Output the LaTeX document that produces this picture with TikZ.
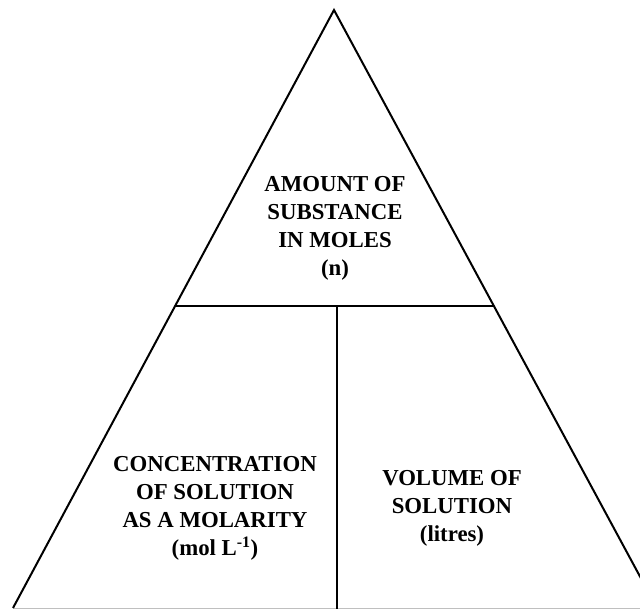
\documentclass[tikz,border=0pt]{standalone}
\usepackage{fontspec}
\setmainfont{Liberation Serif}
\begin{document}
\begin{tikzpicture}[x=1pt,y=-1pt,
  edge/.style={line width=2pt,black},
  lbl/.style={align=center,inner sep=0pt,font=\bfseries\fontsize{22.8}{28}\selectfont}]
\useasboundingbox (0,0) rectangle (640,609);
\clip (0,0) rectangle (640,609);
\coordinate (apex) at (334,10);
\coordinate (bl) at (13,608);
\coordinate (br) at (657,608);
\coordinate (hl) at (175.5,306);
\coordinate (hr) at (494,306);
\coordinate (vt) at (336.5,306);
\coordinate (vb) at (336.5,609);
\draw[line width=1pt,black!25] (bl) -- (br);
\draw[edge,line join=miter] (bl) -- (apex) -- (br);
\draw[edge] (hl) -- (hr);
\draw[edge] (vt) -- (vb);
\node[lbl] (top) at (335,228) {AMOUNT OF\\SUBSTANCE\\IN MOLES\\(n)};
\node[lbl] (left) at (215,508) {CONCENTRATION\\OF SOLUTION\\AS A MOLARITY\\(mol L\textsuperscript{-1})};
\node[lbl] (right) at (452,508) {VOLUME OF\\SOLUTION\\(litres)};
\end{tikzpicture}
\end{document}
